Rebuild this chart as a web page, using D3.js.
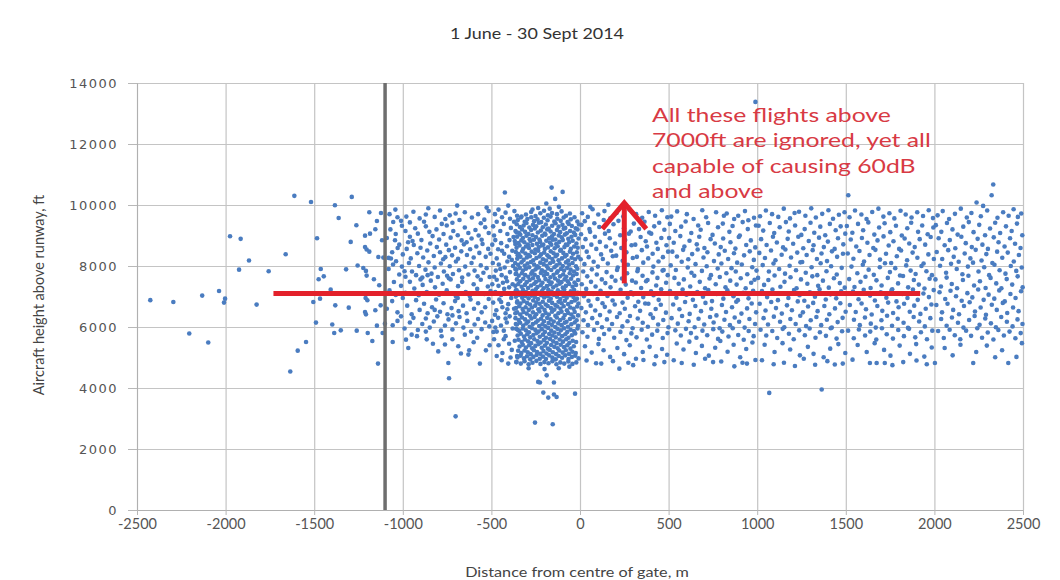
<!DOCTYPE html>
<html>
<head>
<meta charset="utf-8">
<script src="https://cdn.jsdelivr.net/npm/d3@7/dist/d3.min.js"></script>
<style>
body { margin: 0; background: #fff; }
svg { display: block; }
</style>
</head>
<body>
<svg></svg>
<script>
let svgWidth = 1060
let svgHeight = 580

const westFlights = [
  -2425,6880, -2295,6820, -2205,5785, -2132,7030, -2098,5490, -2037,7180, -2003,6930, -2009,6800,
  -1975,8975, -1915,8890, -1868,8180, -1924,7880, -1825,6735, -1757,7830, -1661,8385, -1612,10300,
  -1518,10100, -1635,4540, -1593,5225, -1546,5510, -1484,8910, -1463,7900, -1475,7565, -1446,7660,
  -1407,7225, -1467,6930, -1505,6820, -1490,6145, -1398,6080, -1387,5805, -1350,5890, -1381,6710,
  -1305,6635, -1320,7890, -1383,9990, -1362,9575, -1288,10265, -1294,8790, -1262,9335, -1260,5880,
  -1255,8015, -1223,7935, -1208,7840, -1204,7685, -1210,6950, -1200,6875, -1213,6490, -1208,6415,
  -1198,5805, -1172,5540, -1189,9760, -1213,8995, -1185,9060, -1213,8625, -1204,8540, -1189,8470,
  -1163,7565, -1155,6550, -1146,6045, -1140,4800, -1123,9740, -1146,9475, -1155,9205, -1138,8295,
  -1117,8845, -1110,8275, -1133,7370, -1125,6710, -1114,5805, -1101,6110
]

const nearWestFlights = [
  -1054,9445, -1042,9850, -856,9895, -693,9980, -527,9915, -702,9720, -980,9620, -940,9780, -905,9560,
  -870,9690, -820,9610, -790,9820, -760,9540, -735,9660, -650,9760, -610,9590, -575,9700, -540,9520,
  -515,9800, -1010,9480, -960,9430, -1075,9700, -1030,9600, -880,9450, -720,9420, -680,9510, -560,9400,
  -1044,8845, -1070,9200, -1040,9050, -1005,9320, -985,9150, -960,8960, -930,9240, -915,9060, -895,8850,
  -870,9300, -850,9120, -832,8980, -810,9200, -795,8870, -770,9050, -752,9330, -730,8930, -715,9150,
  -690,9010, -668,8840, -650,9260, -630,9080, -612,8900, -590,9180, -572,9000, -555,8860, -535,9270,
  -515,9080, -1090,8920, -945,8820, -780,9380,
  -1029,8590, -1080,8265, -1067,8245, -1038,8155, -1060,8450, -1020,8700, -1000,8380, -978,8560,
  -955,8250, -938,8690, -918,8420, -900,8600, -885,8280, -862,8510, -845,8740, -825,8330, -808,8620,
  -790,8450, -772,8220, -755,8700, -740,8520, -722,8350, -705,8600, -688,8240, -670,8480, -655,8710,
  -638,8360, -620,8550, -600,8280, -585,8640, -568,8430, -550,8720, -532,8300, -518,8560, -505,8400,
  -970,8780, -760,8290, -640,8780,
  -1080,7900, -1055,8050, -1020,7720, -1005,7980, -985,7650, -965,8100, -948,7820, -925,7700, -908,8000,
  -890,7620, -872,7880, -855,8120, -838,7750, -820,7950, -802,7640, -785,8080, -768,7820, -750,7680,
  -735,7990, -717,7740, -700,8150, -683,7860, -665,7620, -648,7980, -630,7720, -612,8100, -595,7850,
  -578,7660, -560,8020, -545,7780, -527,7930, -510,7640, -990,7830, -860,7700, -740,7600,
  -1050,7475, -1075,7200, -1040,7050, -1010,7350, -985,7120, -960,7480, -935,7260, -910,7040, -888,7380,
  -865,7150, -842,7520, -818,7300, -795,7060, -775,7420, -752,7200, -730,7560, -708,7100, -688,7340,
  -665,7480, -645,7150, -622,7020, -600,7400, -580,7250, -560,7550, -540,7080, -520,7330, -505,7180,
  -900,7560, -700,7000,
  -1090,6600, -1060,6850, -1030,6480, -1000,6950, -975,6700, -950,6420, -925,6880, -905,6560, -880,6760,
  -860,6450, -835,6650, -812,6900, -790,6500, -770,6780, -748,6420, -725,6620, -705,6850, -685,6520,
  -660,6700, -640,6450, -618,6900, -598,6600, -575,6780, -555,6480, -535,6650, -515,6920, -820,6560, -690,6950,
  -1057,6055, -1030,6200, -1010,6350, -990,5950, -960,6150, -940,6300, -915,5900, -890,6100, -870,6280,
  -848,5980, -825,6180, -805,6350, -785,5880, -762,6050, -742,6250, -720,5920, -700,6120, -680,6330,
  -658,5980, -636,6200, -615,5850, -595,6080, -575,6260, -555,5930, -535,6150, -512,6020, -489,5835,
  -870,5850, -720,6380,
  -1057,5510, -969,5310, -982,5585, -865,5595, -781,5695, -762,5425, -687,5370, -672,5130, -625,5235,
  -630,5095, -565,4800, -531,5235, -743,4820, -739,4320, -702,3070, -920,5700, -830,5450, -720,5600,
  -600,5500, -580,5650, -510,5400, -800,5200, -650,5750, -950,5750
]

const gateApproachFlights = [
  -424,10410, -405,9980, -480,9700, -460,9850, -440,9600, -420,9750, -395,9550, -370,9800, -355,9650,
  -490,9300, -470,9450, -450,9150, -430,9380, -410,9050, -390,9250, -372,9450, -358,9100, -485,9000,
  -495,8700, -478,8850, -462,8550, -445,8750, -428,8400, -412,8650, -398,8850, -382,8500, -365,8720,
  -352,8350, -470,8250, -440,8500, -400,8300, -375,8950,
  -492,8100, -475,7850, -458,8050, -442,7700, -425,7950, -410,8150, -395,7800, -378,8000, -360,7750,
  -485,7650, -450,7900, -418,7620, -385,8200, -365,7900,
  -495,7400, -478,7150, -460,7350, -445,7050, -428,7250, -412,7500, -395,7100, -380,7400, -362,7200,
  -470,7550, -435,7450, -400,7300,
  -490,6800, -472,6550, -455,6900, -438,6650, -420,6450, -405,6750, -388,6950, -372,6600, -355,6800,
  -480,6400, -445,6820, -410,6580, -365,6450,
  -496,6200, -478,5980, -462,6300, -446,6050, -430,5880, -413,6150, -397,6350, -380,5950, -362,6100,
  -470,5850, -420,6280, -350,5900,
  -442,4910, -405,4800, -485,5600, -460,5400, -438,5150, -420,5700, -400,5450, -385,5250, -368,5550,
  -355,5050, -470,5050, -392,5000, -360,4850, -430,5600
]

const gateCoreFlights = [
  -305,9690, -276,9770, -251,9640, -224,9730, -203,9810, -181,9660, -158,9740, -130,9700, -104,9790,
  -79,9650, -57,9720, -236,9900, -171,9880, -119,9940, -190,10050, -140,10200, -160,10570, -98,10430,
  -268,9850, -330,9620,
  -351,9510, -334,9590, -312,9450, -297,9540, -275,9600, -259,9470, -240,9530, -219,9440, -204,9580,
  -183,9500, -166,9620, -145,9460, -128,9550, -109,9480, -92,9590, -70,9440, -52,9530, -31,9600, -15,9460,
  -357,9370, -339,9280, -318,9330, -302,9410, -286,9260, -265,9350, -247,9300, -232,9420, -210,9270,
  -193,9360, -177,9230, -157,9320, -138,9400, -121,9290, -99,9350, -83,9250, -64,9380, -46,9310, -24,9240, -6,9360,
  -364,9150, -345,9090, -327,9200, -310,9120, -291,9050, -276,9180, -255,9230, -238,9100, -221,9160,
  -199,9060, -185,9200, -166,9130, -147,9050, -130,9180, -112,9110, -92,9220, -75,9070, -56,9150, -35,9100, -14,9200,
  -355,8960, -337,9030, -322,8920, -302,8990, -284,8880, -268,9010, -248,8950, -229,8870, -213,8990,
  -195,9030, -174,8910, -158,8970, -139,8870, -120,9000, -103,8940, -85,9030, -66,8890, -48,8960, -27,9020, -8,8900,
  -368,8820, -348,8750, -331,8840, -314,8780, -294,8700, -279,8820, -260,8860, -243,8730, -225,8790,
  -207,8700, -190,8830, -170,8770, -153,8860, -134,8720, -117,8790, -97,8850, -80,8700, -61,8780, -41,8830, -20,8740,
  -358,8600, -341,8670, -321,8560, -305,8640, -288,8590, -269,8690, -252,8540, -233,8620, -216,8670,
  -198,8560, -181,8610, -162,8700, -143,8580, -126,8650, -108,8530, -88,8620, -71,8690, -52,8560, -33,8640, -13,8600,
  -362,8460, -346,8390, -326,8480, -308,8410, -291,8360, -273,8470, -255,8420, -236,8500, -220,8380,
  -202,8440, -184,8350, -165,8480, -149,8420, -129,8370, -112,8500, -94,8430, -76,8360, -57,8470, -39,8400, -18,8450,
  -354,8240, -336,8300, -318,8200, -300,8280, -283,8320, -264,8190, -246,8260, -229,8310, -209,8220,
  -192,8180, -174,8290, -156,8230, -137,8320, -121,8190, -102,8250, -85,8310, -67,8180, -47,8270, -28,8220, -10,8300,
  -366,8100, -349,8040, -330,8120, -312,8010, -296,8080, -277,8130, -259,8050, -241,7990, -224,8110,
  -205,8060, -188,8000, -169,8090, -151,8140, -133,8020, -115,8080, -97,8000, -79,8120, -61,8050, -42,8100, -23,7990,
  -359,7880, -340,7940, -322,7850, -305,7910, -287,7960, -268,7830, -251,7890, -233,7950, -215,7860,
  -198,7810, -180,7920, -162,7870, -144,7960, -126,7830, -108,7900, -90,7850, -72,7940, -53,7880, -34,7820, -15,7910,
  -363,7740, -346,7680, -328,7760, -309,7700, -292,7650, -275,7750, -256,7710, -238,7640, -221,7770,
  -203,7690, -185,7740, -167,7630, -149,7710, -131,7780, -113,7660, -95,7720, -77,7650, -58,7760, -39,7690, -19,7740,
  -356,7560, -337,7500, -320,7580, -301,7470, -284,7540, -266,7600, -248,7480, -231,7530, -212,7450,
  -195,7570, -177,7510, -160,7460, -141,7590, -124,7520, -105,7470, -87,7560, -69,7500, -50,7580, -31,7460, -11,7540,
  -365,7350, -348,7410, -329,7320, -311,7380, -293,7280, -276,7360, -258,7420, -240,7310, -222,7370,
  -205,7270, -187,7340, -168,7400, -151,7300, -133,7360, -115,7420, -97,7290, -79,7350, -61,7410, -42,7320, -22,7380,
  -357,7200, -339,7130, -321,7210, -304,7150, -285,7090, -268,7190, -250,7240, -232,7120, -214,7180,
  -197,7100, -179,7220, -160,7160, -143,7080, -125,7200, -107,7140, -89,7230, -71,7100, -52,7170, -33,7210, -13,7120,
  -362,6990, -344,7050, -326,6960, -308,7020, -290,6940, -273,7030, -255,6980, -237,6920, -219,7040,
  -202,6970, -183,7010, -165,6930, -147,7050, -130,6990, -111,6920, -93,7020, -75,6960, -56,7040, -37,6980, -17,6930,
  -354,6840, -336,6770, -318,6850, -299,6790, -282,6740, -264,6870, -246,6800, -228,6760, -210,6830,
  -193,6740, -175,6860, -157,6790, -139,6720, -121,6830, -104,6780, -85,6860, -67,6750, -48,6820, -29,6870, -9,6770,
  -361,6620, -343,6680, -324,6590, -307,6650, -289,6560, -271,6640, -253,6700, -235,6580, -217,6650,
  -200,6560, -182,6690, -164,6620, -145,6570, -128,6670, -110,6600, -92,6680, -74,6550, -55,6640, -36,6600, -16,6670,
  -355,6480, -337,6410, -319,6490, -301,6440, -283,6370, -265,6480, -247,6420, -229,6510, -211,6380,
  -194,6460, -176,6410, -158,6500, -139,6370, -122,6450, -104,6500, -86,6390, -67,6460, -49,6410, -30,6490, -11,6380,
  -364,6290, -346,6230, -327,6310, -310,6250, -292,6180, -274,6280, -256,6330, -238,6210, -220,6270,
  -203,6190, -185,6300, -166,6250, -148,6180, -131,6310, -112,6230, -94,6290, -76,6170, -57,6260, -38,6320, -19,6220,
  -356,6080, -338,6140, -320,6050, -302,6120, -284,6010, -266,6100, -249,6150, -230,6030, -212,6090,
  -195,6020, -177,6130, -159,6070, -140,6000, -123,6120, -104,6060, -86,6140, -68,6010, -49,6090, -30,6150, -11,6040,
  -360,5940, -342,5870, -323,5950, -305,5890, -288,5830, -270,5960, -252,5900, -234,5850, -216,5930,
  -198,5840, -180,5970, -162,5880, -144,5820, -127,5940, -108,5890, -90,5960, -72,5840, -53,5910, -34,5870, -14,5950,
  -352,5720, -334,5780, -316,5690, -298,5760, -281,5660, -263,5740, -245,5800, -227,5680, -209,5750,
  -192,5650, -174,5770, -156,5720, -137,5660, -120,5780, -101,5700, -83,5760, -65,5650, -46,5730, -27,5790,
  -347,5580, -329,5510, -311,5590, -293,5530, -276,5470, -258,5600, -240,5540, -222,5490, -204,5570,
  -187,5480, -169,5610, -151,5530, -132,5470, -115,5590, -96,5520, -78,5600, -60,5480, -41,5550, -22,5510,
  -341,5360, -323,5420, -305,5330, -287,5400, -270,5300, -252,5380, -234,5440, -216,5320, -198,5390,
  -181,5290, -163,5410, -145,5350, -126,5300, -109,5420, -90,5340, -72,5400, -54,5290, -35,5370,
  -349,5220, -331,5150, -313,5230, -295,5170, -278,5110, -260,5240, -242,5180, -224,5120, -206,5210,
  -189,5130, -171,5250, -153,5170, -134,5110, -117,5230, -98,5160, -80,5240, -62,5120, -43,5190, -24,5150,
  -353,5000, -335,5060, -316,4970, -299,5040, -281,4940, -263,5020, -245,5080, -227,4960, -209,5030,
  -192,4950, -174,5070, -156,5000, -137,4940, -120,5050, -101,4990, -83,5070, -65,4950, -46,5020, -27,5060, -8,4970,
  -358,4850, -334,4800, -313,4880, -290,4780, -268,4830, -246,4890, -223,4790, -201,4850, -178,4810,
  -156,4880, -133,4780, -111,4840, -89,4800, -66,4870, -43,4790, -21,4840,
  -236,4200, -254,2865, -154,2810, -28,3815, -188,4415, -226,4180, -147,4180, -207,3850, -179,3685,
  -147,3785, -132,3705, -120,4650, -200,4620, -60,4700, -290,4650
]

const gateEastFlights = [
  12,9730, 44,9610, 71,9860, 103,9690, 138,9800, 171,9560, 206,9740, 244,9620, 279,9850, 317,9700,
  351,9580, 388,9770, 424,9650, 462,9830, 493,9600, 58,9940, 160,10010,
  9,9350, 27,9470, 53,9210, 81,9400, 109,9280, 134,9510, 162,9150, 189,9370, 217,9480, 248,9240,
  276,9060, 304,9390, 333,9210, 364,9450, 391,9100, 419,9300, 447,9420, 476,9190,
  6,9040, 31,8880, 57,9120, 84,8960, 112,8790, 141,9060, 168,8910, 198,8740, 227,9010, 255,8850,
  286,9130, 312,8700, 342,8950, 371,8810, 402,9060, 431,8760, 459,8920, 488,8680,
  16,8620, 38,8470, 64,8700, 92,8560, 119,8380, 147,8640, 176,8500, 204,8340, 233,8590, 262,8450,
  291,8680, 321,8300, 349,8520, 378,8640, 410,8400, 439,8560, 468,8290, 497,8470,
  4,8220, 25,8060, 49,8290, 77,8140, 101,7980, 129,8230, 157,8080, 185,8320, 213,7950, 241,8170,
  270,8040, 298,8260, 327,7900, 357,8110, 385,8250, 414,7980, 443,8150, 472,7870,
  18,7820, 41,7660, 67,7890, 95,7720, 123,7560, 150,7800, 179,7650, 209,7870, 237,7590, 266,7760,
  294,7520, 324,7830, 353,7680, 381,7540, 409,7790, 437,7610, 466,7850, 495,7700,
  10,7400, 35,7250, 62,7480, 88,7330, 116,7190, 143,7440, 172,7300, 200,7520, 229,7220, 258,7390,
  287,7140, 315,7460, 345,7280, 373,7500, 401,7170, 430,7360, 458,7240, 486,7450,
  22,7010, 48,6860, 74,7080, 99,6920, 127,6780, 155,7020, 184,6870, 212,7110, 240,6800, 269,6960,
  300,7070, 329,6830, 357,6980, 386,6760, 415,7040, 444,6890, 473,7100,
  8,6620, 33,6480, 60,6700, 86,6540, 113,6390, 140,6660, 167,6510, 196,6740, 224,6450, 253,6600,
  282,6360, 311,6680, 339,6530, 368,6770, 398,6420, 427,6590, 456,6730, 485,6470,
  20,6220, 45,6060, 69,6290, 97,6130, 124,5990, 152,6250, 181,6100, 209,6330, 239,6020, 268,6190,
  297,5960, 326,6280, 354,6140, 383,6010, 412,6300, 441,6080, 470,6230, 499,5990,
  14,5830, 42,5680, 79,5900, 107,5610, 136,5770, 165,5920, 193,5650, 228,5840, 262,5570, 290,5790,
  319,5660, 348,5910, 377,5590, 407,5750, 436,5880, 467,5640, 494,5800,
  28,5370, 66,5160, 104,5440, 133,5240, 170,5020, 211,5310, 249,5110, 281,5400, 316,4960, 354,5180,
  393,5350, 429,5040, 463,5280, 492,5090,
  37,4900, 91,4810, 120,4800, 186,4880, 222,4635, 273,4830, 300,4750, 358,4920, 420,4780, 476,4850
]

const eastFlights500 = [
  515,9620, 548,9790, 603,9700, 641,9540, 690,9830, 712,9600, 768,9760, 812,9650, 828,9720, 870,9540,
  893,9650, 931,9800, 950,9500, 982,9580,
  507,9380, 538,9150, 571,9290, 596,9460, 628,9080, 667,9330, 681,9190, 723,9410, 748,9020, 779,9270,
  806,9390, 843,9120, 861,9310, 902,9000, 918,9440, 947,9210, 993,9330,
  503,8920, 529,8760, 566,8980, 589,8640, 618,8830, 659,8710, 673,8960, 702,8590, 737,8880, 761,8740,
  794,8620, 808,8900, 849,8780, 877,8570, 896,8950, 938,8690, 964,8840, 989,8610,
  521,8470, 547,8310, 582,8530, 611,8220, 633,8390, 664,8540, 697,8280, 719,8450, 756,8160, 783,8380,
  817,8500, 836,8230, 869,8420, 887,8110, 926,8350, 958,8480, 981,8200,
  512,8020, 541,7870, 574,8140, 608,7950, 629,7780, 652,8060, 688,7840, 715,7990, 739,7700, 777,7920,
  798,8080, 826,7760, 855,7930, 879,7820, 913,8050, 944,7730, 972,7960, 996,7850,
  533,7610, 557,7420, 586,7560, 622,7330, 645,7680, 676,7480, 706,7270, 731,7590, 766,7400, 789,7640,
  821,7300, 848,7520, 884,7390, 907,7600, 935,7270, 966,7450, 985,7550,
  508,7180, 544,6960, 579,7230, 601,7060, 637,6890, 662,7150, 694,6990, 724,7210, 745,6850, 772,7080,
  809,6930, 832,7200, 866,7010, 891,6880, 921,7120, 951,6940, 977,7190,
  526,6740, 561,6580, 593,6820, 619,6430, 651,6690, 683,6520, 708,6790, 741,6600, 770,6380, 801,6720,
  824,6490, 858,6650, 882,6830, 911,6440, 943,6610, 969,6770, 994,6480,
  517,6290, 552,6110, 576,6360, 613,6190, 647,5990, 669,6270, 701,6080, 734,6330, 754,6150, 788,5960,
  815,6240, 846,6060, 873,6310, 898,6170, 929,5980, 956,6260, 988,6100,
  538,5890, 569,5720, 598,5940, 626,5800, 657,5650, 691,5880, 718,5730, 752,5930, 779,5610, 803,5850,
  838,5690, 862,5960, 893,5740, 924,5580, 952,5870, 980,5700,
  546,5460, 584,5260, 617,5520, 654,5150, 688,5380, 727,5060, 763,5320, 792,5540, 833,5190, 867,5420,
  904,5010, 938,5280, 973,5490,
  529,4910, 574,4820, 642,4760, 706,4960, 751,4850, 797,4870, 871,4710, 917,4830, 942,4800, 990,4920
]

const eastFlights1000 = [
  990,13380, 1068,3840, 1364,3950,
  1016,9630, 1049,9820, 1084,9700, 1119,9610, 1150,9880, 1185,9560, 1211,9740, 1236,9780, 1272,9650,
  1305,9890, 1331,9590, 1367,9710, 1402,9830, 1428,9550, 1461,9680, 1493,9760,
  1008,9320, 1034,9160, 1071,9410, 1096,9080, 1127,9270, 1162,9440, 1178,9130, 1214,9330, 1249,9020,
  1268,9210, 1301,9420, 1322,9090, 1356,9290, 1384,9010, 1410,9380, 1443,9170, 1471,9300, 1497,9060,
  1022,8880, 1053,8690, 1089,8960, 1111,8770, 1146,8610, 1172,8890, 1203,8730, 1232,8960, 1260,8580,
  1291,8820, 1318,8680, 1349,8930, 1376,8620, 1399,8800, 1437,8560, 1456,8910, 1486,8710,
  1012,8430, 1044,8260, 1078,8510, 1103,8190, 1138,8370, 1159,8540, 1191,8280, 1226,8440, 1254,8130,
  1279,8360, 1313,8520, 1337,8230, 1363,8410, 1394,8160, 1422,8480, 1451,8300, 1484,8400,
  1031,8030, 1066,7820, 1092,8080, 1124,7900, 1157,7750, 1183,8010, 1219,7860, 1244,8120, 1274,7780,
  1307,7960, 1339,7700, 1358,8090, 1391,7830, 1417,7990, 1449,7720, 1477,7940,
  1005,7610, 1039,7380, 1063,7540, 1098,7690, 1131,7320, 1154,7480, 1188,7630, 1222,7270, 1247,7560,
  1283,7420, 1311,7660, 1344,7350, 1371,7520, 1404,7290, 1433,7600, 1466,7440, 1494,7290,
  1027,7180, 1056,6980, 1086,7230, 1117,6880, 1142,7100, 1176,6950, 1208,7210, 1239,7040, 1266,6860,
  1297,7140, 1326,6990, 1352,7240, 1387,6900, 1413,7070, 1446,6940, 1474,7170,
  1014,6760, 1047,6540, 1079,6820, 1106,6620, 1139,6440, 1168,6710, 1196,6550, 1229,6840, 1258,6480,
  1287,6670, 1316,6790, 1341,6520, 1379,6690, 1407,6420, 1439,6610, 1469,6780, 1499,6500,
  1036,6290, 1061,6080, 1094,6340, 1129,6170, 1153,5990, 1187,6260, 1217,6100, 1243,6370, 1276,6030,
  1302,6220, 1334,6330, 1361,6060, 1393,6240, 1421,5980, 1454,6160, 1482,6300,
  1019,5910, 1051,5720, 1085,5870, 1113,5640, 1144,5940, 1179,5780, 1206,5600, 1237,5890, 1269,5730,
  1296,5950, 1329,5650, 1354,5830, 1388,5710, 1415,5960, 1448,5620, 1479,5860,
  1042,5420, 1098,5180, 1143,5470, 1186,5260, 1241,5070, 1286,5350, 1318,5120, 1375,5010, 1412,5290,
  1458,5440, 1497,5150,
  1027,4910, 1093,4780, 1151,4830, 1213,4720, 1263,4960, 1327,4760, 1396,4880, 1438,4770, 1483,4800
]

const eastFlights1500 = [
  1514,10320, 1521,9600, 1552,9820, 1588,9690, 1617,9540, 1649,9770, 1684,9880, 1712,9620, 1746,9730,
  1774,9560, 1809,9810, 1838,9690, 1871,9590, 1903,9760, 1936,9640, 1968,9830, 1992,9570,
  1506,9310, 1537,9090, 1569,9380, 1598,9170, 1627,9430, 1661,9030, 1688,9260, 1719,9400, 1751,9110,
  1783,9320, 1816,9000, 1847,9240, 1869,9420, 1908,9120, 1931,9330, 1962,9040, 1994,9260,
  1528,8870, 1559,8640, 1591,8920, 1622,8760, 1655,8590, 1679,8840, 1713,8970, 1742,8670, 1769,8810,
  1801,8560, 1832,8900, 1858,8740, 1889,8620, 1917,8880, 1948,8700, 1979,8950,
  1511,8410, 1543,8240, 1577,8490, 1603,8150, 1634,8360, 1667,8530, 1693,8210, 1727,8400, 1756,8100,
  1788,8320, 1812,8510, 1846,8190, 1877,8440, 1904,8270, 1939,8080, 1966,8380, 1997,8230,
  1532,7980, 1565,7760, 1596,8040, 1629,7880, 1658,7710, 1692,7960, 1721,8090, 1749,7800, 1779,7930,
  1806,7690, 1841,8020, 1866,7850, 1894,7740, 1927,8000, 1955,7830, 1986,7700,
  1519,7570, 1549,7310, 1583,7480, 1611,7650, 1640,7280, 1673,7530, 1702,7360, 1737,7610, 1762,7240,
  1795,7430, 1823,7670, 1852,7300, 1884,7540, 1912,7390, 1944,7260, 1973,7580,
  1541,7160, 1572,6910, 1601,7220, 1637,7030, 1664,6870, 1697,7140, 1729,6960, 1758,7200, 1786,6840,
  1819,7080, 1848,6950, 1879,7230, 1906,6890, 1938,7100, 1969,6980, 1996,7210,
  1523,6720, 1556,6490, 1589,6770, 1614,6580, 1646,6410, 1678,6690, 1706,6530, 1739,6800, 1767,6460,
  1798,6650, 1829,6760, 1861,6500, 1886,6700, 1921,6430, 1951,6600, 1983,6740,
  1546,6240, 1579,6060, 1608,6310, 1641,6110, 1669,5980, 1701,6220, 1733,6370, 1761,6040, 1793,6270,
  1826,6140, 1851,5970, 1883,6330, 1914,6180, 1946,6020, 1977,6290,
  1513,5880, 1545,5630, 1574,5920, 1609,5720, 1638,5850, 1672,5590, 1704,5960, 1731,5760, 1766,5620,
  1796,5900, 1828,5700, 1857,5940, 1892,5660, 1924,5830, 1958,5600, 1988,5880,
  1567,5410, 1618,5180, 1663,5470, 1716,5250, 1752,5060, 1804,5390, 1862,5120, 1897,5440, 1943,5030, 1985,5330,
  1538,4930, 1636,4820, 1674,4820, 1720,4820, 1763,4750, 1824,4850, 1899,4900, 1957,4780
]

const eastFlights2000 = [
  2332,10670, 2323,10320, 2238,10080, 2275,9970, 2471,9610,
  2018,9660, 2047,9800, 2083,9540, 2116,9710, 2149,9880, 2183,9590, 2209,9740, 2262,9630, 2298,9820,
  2356,9580, 2388,9760, 2419,9650, 2447,9860, 2490,9720,
  2008,9340, 2039,9120, 2071,9410, 2102,9200, 2131,9030, 2163,9290, 2194,9440, 2221,9110, 2253,9350,
  2286,9010, 2314,9230, 2343,9420, 2371,9080, 2404,9300, 2436,9150, 2466,9390, 2496,9010,
  2024,8910, 2058,8680, 2087,8850, 2118,8580, 2152,8960, 2177,8750, 2211,8620, 2244,8890, 2271,8700,
  2302,8560, 2335,8940, 2362,8780, 2396,8640, 2427,8910, 2455,8730, 2486,8590,
  2013,8460, 2044,8230, 2078,8520, 2109,8300, 2137,8140, 2171,8410, 2203,8250, 2233,8530, 2266,8180,
  2293,8390, 2327,8100, 2354,8470, 2383,8270, 2414,8440, 2448,8150, 2477,8360,
  2032,8010, 2066,7780, 2094,8070, 2126,7900, 2158,7730, 2189,7980, 2218,8110, 2249,7820, 2281,7960,
  2309,7700, 2339,8040, 2368,7860, 2401,7750, 2431,8000, 2462,7840, 2493,7950,
  2006,7560, 2037,7330, 2069,7620, 2098,7410, 2128,7270, 2161,7540, 2192,7680, 2224,7360, 2257,7500,
  2289,7280, 2317,7610, 2349,7430, 2378,7270, 2408,7570, 2439,7390, 2470,7660, 2498,7300,
  2029,7140, 2061,6920, 2091,7190, 2122,7010, 2154,6860, 2186,7110, 2214,6970, 2247,7230, 2278,6890,
  2306,7060, 2338,6930, 2366,7200, 2397,6840, 2429,7080, 2458,6950, 2489,7170,
  2011,6720, 2043,6480, 2074,6760, 2106,6560, 2139,6420, 2167,6690, 2199,6810, 2229,6510, 2261,6640,
  2291,6400, 2324,6730, 2352,6560, 2386,6790, 2411,6460, 2444,6640, 2475,6520,
  2038,6260, 2069,6040, 2099,6310, 2133,6140, 2164,5980, 2196,6230, 2227,6360, 2255,6070, 2287,6280,
  2319,6120, 2347,5990, 2377,6330, 2409,6170, 2441,6020, 2469,6250, 2497,6100,
  2021,5870, 2053,5640, 2086,5910, 2115,5730, 2146,5600, 2179,5880, 2207,5710, 2242,5960, 2269,5650,
  2301,5820, 2333,5590, 2361,5900, 2392,5720, 2424,5850, 2457,5630, 2487,5800,
  2003,4820, 2219,4820, 2417,4820, 2058,5310, 2103,5070, 2147,5420, 2236,5180, 2296,5390, 2343,5010,
  2382,5240, 2463,5020, 2494,5470
]

const xTicks = [-2500, -2000, -1500, -1000, -500, 0, 500, 1000, 1500, 2000, 2500]
const yTicks = [0, 2000, 4000, 6000, 8000, 10000, 12000, 14000]

const gateEdge = -1100                 // thick grey marker, m
const cutoffHeight = 7100              // red threshold line, ft
const cutoffFrom = -1730, cutoffTo = 1920
const arrowAt = 250, arrowBase = 7430, arrowTip = 10070
const noteLines = [
  'All these flights above',
  '7000ft are ignored, yet all',
  'capable of causing 60dB',
  'and above'
]

function toPoints(flat){
    let out = []
    for (let i = 0; i < flat.length; i += 2) out.push({dist: flat[i], height: flat[i + 1]})
    return out
}
const flights = [westFlights, nearWestFlights, gateApproachFlights, gateCoreFlights,
    gateEastFlights, eastFlights500, eastFlights1000, eastFlights1500, eastFlights2000].flatMap(toPoints)

let svg = d3.select('svg')
    .attr('width', svgWidth)
    .attr('height', svgHeight)

const plot = {left: 137, right: 1023, top: 83, bottom: 510}

const xScale = d3.scaleLinear().domain([-2500, 2500]).range([plot.left, plot.right])
const yScale = d3.scaleLinear().domain([0, 14000]).range([plot.bottom, plot.top])

// gridlines
svg.append('g')
    .attr('transform', `translate(${plot.left},0)`)
    .call(d3.axisLeft(yScale).tickValues(yTicks).tickSize(-(plot.right - plot.left)).tickFormat(''))
    .call(g => g.select('.domain').remove())
    .selectAll('line').attr('stroke', '#c4c4c4').attr('stroke-width', 1.2)

svg.append('g')
    .attr('transform', `translate(0,${plot.top})`)
    .call(d3.axisTop(xScale).tickValues(xTicks).tickSize(-(plot.bottom - plot.top)).tickFormat(''))
    .call(g => g.select('.domain').remove())
    .selectAll('line').attr('stroke', '#c4c4c4').attr('stroke-width', 1.2)

// axes with labels (plain hyphen minus like the original)
let yAxis = svg.append('g')
    .attr('transform', `translate(${plot.left},0)`)
    .call(d3.axisLeft(yScale).tickValues(yTicks).tickSize(9).tickPadding(10).tickFormat(d => String(d)))
yAxis.select('.domain').attr('stroke', '#b0b0b0')
yAxis.selectAll('line').attr('stroke', '#b8b8b8')
yAxis.selectAll('text')
    .attr('fill', '#555')
    .style('font-family', 'DejaVu Sans, sans-serif')
    .style('font-size', '13px')
    .style('letter-spacing', '1.5px')

let xAxis = svg.append('g')
    .attr('transform', `translate(0,${plot.bottom})`)
    .call(d3.axisBottom(xScale).tickValues(xTicks).tickSize(5).tickPadding(4).tickFormat(d => String(d)))
xAxis.select('.domain').attr('stroke', '#b0b0b0')
xAxis.selectAll('line').attr('stroke', '#b8b8b8')
xAxis.selectAll('text')
    .attr('fill', '#555')
    .style('font-family', 'Lato, sans-serif')
    .style('font-size', '14.5px')

// flights
svg.append('g').selectAll('circle').data(flights)
    .enter()
    .append('circle')
    .attr('cx', d => xScale(d.dist))
    .attr('cy', d => yScale(d.height))
    .attr('r', 2.3)
    .attr('fill', '#4a7cc0')

// gate marker
svg.append('line')
    .attr('x1', xScale(gateEdge)).attr('x2', xScale(gateEdge))
    .attr('y1', yScale(0)).attr('y2', yScale(14000))
    .attr('stroke', '#6e6e6e')
    .attr('stroke-width', 3.5)

// red threshold line and arrow
svg.append('line')
    .attr('x1', xScale(cutoffFrom)).attr('x2', xScale(cutoffTo))
    .attr('y1', yScale(cutoffHeight)).attr('y2', yScale(cutoffHeight))
    .attr('stroke', '#e3212b')
    .attr('stroke-width', 5)

svg.append('line')
    .attr('x1', xScale(arrowAt)).attr('x2', xScale(arrowAt))
    .attr('y1', yScale(arrowBase)).attr('y2', yScale(arrowTip) + 2)
    .attr('stroke', '#e3212b')
    .attr('stroke-width', 5)

svg.append('path')
    .attr('d', d3.line()([
        [xScale(arrowAt) - 22, yScale(arrowTip) + 26],
        [xScale(arrowAt), yScale(arrowTip)],
        [xScale(arrowAt) + 22, yScale(arrowTip) + 26]
    ]))
    .attr('fill', 'none')
    .attr('stroke', '#e3212b')
    .attr('stroke-width', 5)

// annotation, stretched sideways like the source screenshot
svg.append('text')
    .attr('transform', 'translate(652,122) scale(1.27,1)')
    .attr('fill', '#d83a44')
    .style('font-family', 'Lato, sans-serif')
    .style('font-size', '19.5px')
    .selectAll('tspan').data(noteLines)
    .enter()
    .append('tspan')
    .attr('x', 0)
    .attr('dy', (d, i) => i == 0 ? 0 : 25.5)
    .text(d => d)

// titles
svg.append('text')
    .attr('transform', 'translate(537,39) scale(1.12,1)')
    .attr('text-anchor', 'middle')
    .attr('fill', '#333')
    .style('font-family', 'Lato, sans-serif')
    .style('font-size', '16px')
    .text('1 June - 30 Sept 2014')

svg.append('text')
    .attr('transform', 'translate(577,577) scale(1.2,1)')
    .attr('text-anchor', 'middle')
    .attr('fill', '#444')
    .style('font-family', 'Lato, sans-serif')
    .style('font-size', '13.5px')
    .text('Distance from centre of gate, m')

svg.append('text')
    .attr('transform', 'translate(44,295) rotate(-90)')
    .attr('text-anchor', 'middle')
    .attr('fill', '#444')
    .style('font-family', 'Lato, sans-serif')
    .style('font-size', '14.5px')
    .text('Aircraft height above runway, ft')
</script>
</body>
</html>
